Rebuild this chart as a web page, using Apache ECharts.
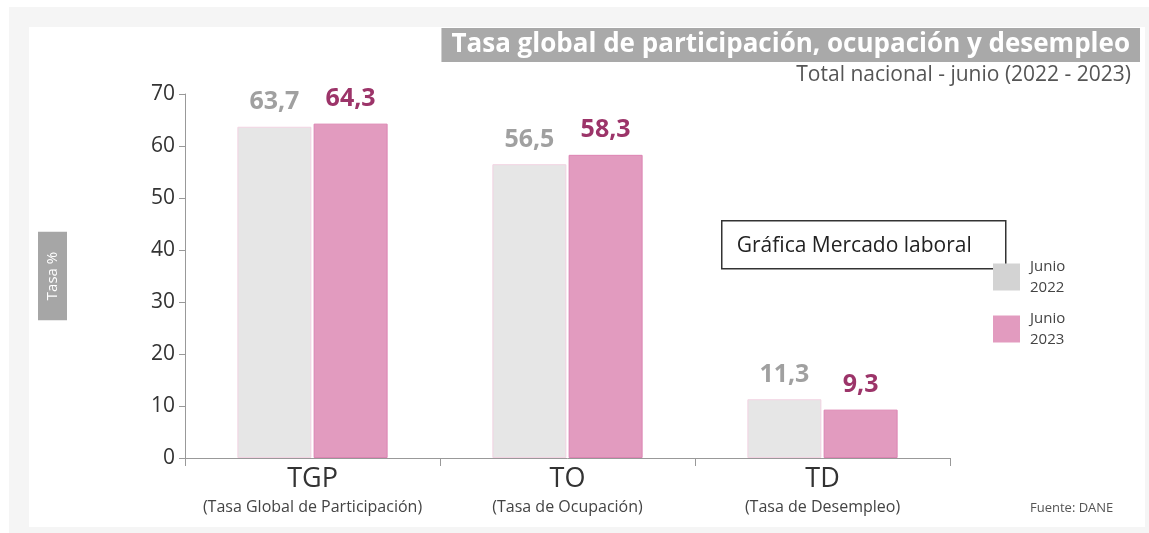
<!DOCTYPE html>
<html>
<head>
<meta charset="utf-8">
<script src="https://cdn.jsdelivr.net/npm/echarts@6/dist/echarts.min.js"></script>
<style>
  html, body { margin: 0; padding: 0; background: #fff; }
  #container { width: 1149px; height: 533px; }
</style>
</head>
<body>
<div id="container"></div>
<script>
var categories = ['TGP', 'TO', 'TD'];
var categoryNames = ['(Tasa Global de Participación)', '(Tasa de Ocupación)', '(Tasa de Desempleo)'];
var seriesNames = ['Junio\n2022', 'Junio\n2023'];
var values2022 = [63.7, 56.5, 11.3];
var values2023 = [64.3, 58.3, 9.3];

window.onload = function() {

var chartDom = document.getElementById('container');
var myChart = echarts.init(chartDom);
var option;

function fmt(p) {
  return p.value.toFixed(1).replace('.', ',');
}

option = {
  backgroundColor: '#fff',
  textStyle: { fontFamily: 'Open Sans' },
  graphic: [
    { type: 'rect', z: -10, shape: { x: 9, y: 7, width: 1140, height: 526 }, style: { fill: '#f5f5f5' } },
    { type: 'rect', z: -9, shape: { x: 29, y: 27, width: 1116, height: 500 }, style: { fill: '#fff' } },
    {
      type: 'group', left: 721, top: 220,
      children: [
        { type: 'rect', shape: { x: 0, y: 0, width: 284, height: 48 }, style: { fill: '#fff', stroke: '#333', lineWidth: 1.5 } },
        { type: 'text', x: 15, y: 25, style: { text: 'Gráfica Mercado laboral', font: '21px "Open Sans"', fill: '#222', textVerticalAlign: 'middle' } }
      ]
    },
    { type: 'text', left: 1030, top: 502, style: { text: 'Fuente: DANE', font: '13px "Open Sans"', fill: '#555' } }
  ],
  title: [
    {
      text: 'Tasa global de participación, ocupación y desempleo',
      right: 9,
      top: 28,
      padding: [4, 10, 4, 10],
      backgroundColor: '#a9a9a9',
      textStyle: { color: '#fff', fontSize: 26, fontWeight: 'bold', fontFamily: 'Open Sans' }
    },
    {
      text: 'Total nacional - junio (2022 - 2023)',
      right: 18,
      top: 65,
      padding: 0,
      textStyle: { color: '#555', fontSize: 21, fontWeight: 'normal', fontFamily: 'Open Sans' }
    }
  ],
  legend: {
    orient: 'vertical',
    left: 993,
    top: 256,
    padding: 0,
    itemWidth: 27,
    itemHeight: 27,
    itemGap: 10,
    icon: 'rect',
    data: [
      { name: seriesNames[0], itemStyle: { color: '#d3d3d3', borderWidth: 0 } },
      { name: seriesNames[1], itemStyle: { color: '#e29bbf', borderWidth: 0 } }
    ],
    textStyle: { color: '#444', fontSize: 15, lineHeight: 21, padding: [0, 0, 0, 5] }
  },
  grid: { left: 185, right: 199, top: 94, bottom: 75 },
  xAxis: {
    type: 'category',
    data: categories,
    axisLine: { lineStyle: { color: '#999' } },
    axisTick: { show: true, length: 8, lineStyle: { color: '#999' } },
    axisLabel: {
      margin: 5,
      formatter: function(v, i) {
        return '{a|' + v + '}\n{b|' + categoryNames[i] + '}';
      },
      rich: {
        a: { fontSize: 27, color: '#333', lineHeight: 32, fontFamily: 'Open Sans' },
        b: { fontSize: 16, color: '#444', lineHeight: 24, fontFamily: 'Open Sans' }
      }
    }
  },
  yAxis: {
    type: 'value',
    min: 0,
    max: 70,
    interval: 10,
    name: 'Tasa %',
    nameLocation: 'middle',
    nameGap: 118,
    nameRotate: 90,
    nameTextStyle: { color: '#fff', backgroundColor: '#a6a6a6', padding: [7, 20], fontSize: 15 },
    axisLine: { show: true, lineStyle: { color: '#999' } },
    axisTick: { show: true, length: 6, lineStyle: { color: '#999' } },
    splitLine: { show: false },
    axisLabel: { fontSize: 21, color: '#333', margin: 10 }
  },
  series: [
    {
      name: seriesNames[0],
      type: 'bar',
      data: values2022,
      barWidth: 74,
      barGap: '3%',
      itemStyle: { color: '#e6e6e6', borderColor: '#f2d3e2', borderWidth: 1 },
      label: { show: true, position: 'top', distance: 12, formatter: fmt, color: '#a0a0a0', fontSize: 25, fontWeight: 'bold' }
    },
    {
      name: seriesNames[1],
      type: 'bar',
      data: values2023,
      barWidth: 74,
      itemStyle: { color: '#e29bbf', borderColor: '#dc84b2', borderWidth: 1 },
      label: { show: true, position: 'top', distance: 12, formatter: fmt, color: '#9c3469', fontSize: 25, fontWeight: 'bold' }
    }
  ]
};

option && myChart.setOption(option);

}
</script>
</body>
</html>
